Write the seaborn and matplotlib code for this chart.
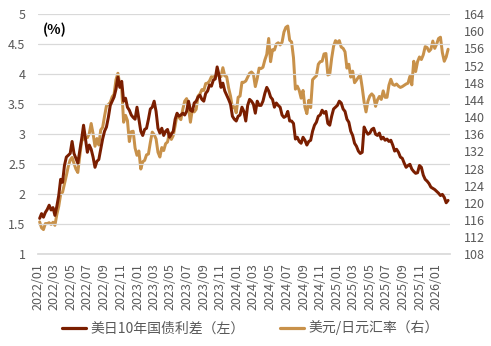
import matplotlib
matplotlib.use("Agg")
import matplotlib.pyplot as plt
import matplotlib.dates as mdates
from matplotlib.lines import Line2D
import numpy as np
import pandas as pd
import seaborn as sns

# Weekly observations (Fridays), starting 2022-01-07
start_date = "2022-01-07"

# US-Japan 10Y government bond yield spread, %  (left axis)
spread = [
    # 2022
    1.60, 1.68, 1.62, 1.70,
    1.75, 1.82, 1.74, 1.78,
    1.65, 1.80, 1.98, 2.25,
    2.20, 2.48, 2.62, 2.65, 2.68,
    2.88, 2.68, 2.60, 2.52,
    2.72, 2.92, 3.15, 2.92,
    2.70, 2.82, 2.75, 2.62, 2.45,
    2.55, 2.58, 2.75, 2.92,
    3.05, 3.12, 3.28, 3.48, 3.55,
    3.62, 3.75, 3.95, 3.78,
    3.88, 3.55, 3.60, 3.45,
    3.40, 3.32, 3.28, 3.25, 3.45,
    # 2023
    3.25, 3.05, 2.98, 3.08,
    3.10, 3.25, 3.42, 3.45,
    3.55, 3.38, 3.10, 3.02, 3.10,
    2.98, 3.05, 3.08, 2.95,
    3.00, 3.05, 3.25, 3.35,
    3.30, 3.32, 3.35, 3.32, 3.38,
    3.55, 3.40, 3.38, 3.52,
    3.55, 3.62, 3.65, 3.58,
    3.55, 3.68, 3.72, 3.82, 3.80,
    3.90, 3.92, 4.12, 3.98,
    3.78, 3.85, 3.72, 3.65,
    3.58, 3.50, 3.30, 3.25, 3.22,
    # 2024
    3.30, 3.32, 3.45, 3.38,
    3.22, 3.48, 3.58, 3.55,
    3.50, 3.35, 3.55, 3.48, 3.48,
    3.55, 3.68, 3.78, 3.72,
    3.62, 3.58, 3.45, 3.52, 3.48,
    3.45, 3.32, 3.28, 3.30,
    3.38, 3.22, 3.22, 3.18,
    2.92, 2.95, 2.88, 2.85, 2.95,
    2.90, 2.82, 2.88, 2.90,
    3.05, 3.15, 3.20, 3.30,
    3.32, 3.40, 3.35, 3.38, 3.18,
    3.15, 3.30, 3.42, 3.45,
    # 2025
    3.48, 3.55, 3.52, 3.42, 3.38,
    3.25, 3.20, 3.05, 2.98,
    2.85, 2.80, 2.72, 2.68,
    2.70, 3.12, 3.05, 3.00,
    3.02, 3.08, 3.10, 3.00, 2.98,
    3.02, 2.92, 2.95, 2.90,
    2.92, 2.88, 2.90, 2.82,
    2.72, 2.75, 2.70, 2.62, 2.60,
    2.52, 2.45, 2.48, 2.50,
    2.42, 2.38, 2.35, 2.36, 2.48,
    2.45, 2.32, 2.25, 2.22,
    2.18, 2.12, 2.10, 2.08,
    # 2026
    2.05, 2.02, 1.98, 2.00, 1.95,
    1.86, 1.90,
]

# USD/JPY exchange rate (right axis)
usdjpy = [
    # 2022
    115.6, 114.2, 113.8, 115.2,
    115.2, 115.4, 115.0, 115.5,
    114.8, 117.3, 119.2, 122.0,
    122.5, 124.4, 126.4, 128.5, 130.0,
    130.6, 129.2, 127.9, 127.1,
    130.9, 134.4, 135.0, 135.2,
    135.2, 136.1, 138.5, 136.1, 133.2,
    135.0, 133.5, 137.0, 137.6,
    140.2, 142.6, 142.9, 143.4, 144.7,
    145.3, 148.7, 150.2, 147.6,
    146.6, 138.8, 140.4, 139.2,
    134.3, 136.6, 136.7, 132.8, 131.1,
    # 2023
    132.1, 127.9, 129.6, 129.9,
    131.2, 131.4, 134.1, 136.5,
    135.9, 134.9, 131.8, 130.7, 132.9,
    132.2, 133.8, 134.2, 136.3,
    134.8, 135.7, 138.0, 140.6,
    139.9, 139.4, 141.8, 143.7, 144.3,
    142.1, 138.8, 141.8, 141.2,
    141.8, 144.9, 145.4, 146.4,
    146.2, 147.8, 147.9, 148.4, 149.4,
    149.3, 149.6, 149.9, 149.6,
    149.4, 151.5, 149.6, 149.4,
    146.8, 144.9, 142.2, 142.4, 141.0,
    # 2024
    144.6, 144.9, 148.1, 148.1,
    148.4, 149.3, 150.2, 150.5,
    150.0, 147.1, 149.0, 151.4, 151.3,
    151.6, 153.3, 154.6, 158.3,
    152.9, 155.7, 155.6, 157.0, 157.3,
    156.8, 157.4, 159.8, 160.9,
    161.2, 157.9, 157.5, 153.8,
    146.5, 147.2, 146.2, 144.4, 146.2,
    142.3, 140.8, 143.9, 142.2,
    148.7, 149.2, 149.6, 152.3,
    152.9, 153.0, 154.7, 154.8, 149.8,
    150.0, 153.7, 156.5, 157.8,
    # 2025
    157.3, 157.8, 156.3, 156.0, 155.2,
    151.4, 152.3, 149.3, 150.7,
    148.0, 148.6, 149.3, 149.8,
    146.9, 143.5, 141.2, 143.7,
    144.9, 145.4, 144.9, 142.5, 144.0,
    144.8, 144.1, 146.1, 144.6,
    144.6, 147.4, 148.8, 147.6,
    147.4, 147.7, 147.2, 146.9, 147.1,
    147.4, 147.7, 147.9, 149.5,
    147.5, 153.0, 150.6, 152.9, 154.0,
    153.4, 154.5, 156.4, 156.2,
    155.3, 155.8, 157.7, 156.0,
    # 2026
    157.0, 158.3, 158.6, 155.0, 153.0,
    154.0, 155.8,
]

spread_label = "美日10年国债利差（左）"
fx_label = "美元/日元汇率（右）"
left_ticks = [1, 1.5, 2, 2.5, 3, 3.5, 4, 4.5, 5]
right_ticks = list(range(108, 165, 4))

dates = pd.date_range(start_date, periods=len(spread), freq="W-FRI")
df = pd.DataFrame({"date": dates, "spread": spread, "usdjpy": usdjpy})

sns.set_theme(style="white")
plt.rcParams["font.family"] = ["Noto Sans CJK SC", "DejaVu Sans"]

c_spread = "#7A1E00"
c_fx = "#C8914A"
c_text = "#595959"
c_grid = "#D9D9D9"

fig = plt.figure(figsize=(4.91, 3.46), dpi=100)
ax = fig.add_axes([0.0774, 0.2645, 0.8391, 0.695])
ax2 = ax.twinx()

sns.lineplot(data=df, x="date", y="usdjpy", ax=ax2, color=c_fx, lw=2.15)
sns.lineplot(data=df, x="date", y="spread", ax=ax, color=c_spread, lw=2.15)

# keep the spread line above the FX line
ax.set_zorder(ax2.get_zorder() + 1)
ax.patch.set_visible(False)

ax.set_ylim(1, 5)
ax.set_yticks(left_ticks)
ax.set_yticklabels([f"{t:g}" for t in left_ticks])
ax2.set_ylim(108, 164)
ax2.set_yticks(right_ticks)

ax.set_xlim(pd.Timestamp("2022-01-01"), pd.Timestamp("2026-02-20"))
ax.xaxis.set_major_locator(mdates.MonthLocator(bymonth=[1, 3, 5, 7, 9, 11]))
ax.xaxis.set_major_formatter(mdates.DateFormatter("%Y/%m"))
for lbl in ax.get_xticklabels():
    lbl.set_rotation(90)

ax.yaxis.grid(True, color=c_grid, lw=0.9)
ax.xaxis.grid(False)
ax2.grid(False)

for a in (ax, ax2):
    for s in ("top", "left", "right"):
        a.spines[s].set_visible(False)
    a.spines["bottom"].set_color(c_grid)
    a.set_xlabel("")
    a.set_ylabel("")
ax2.spines["bottom"].set_visible(False)

ax.tick_params(axis="x", which="major", direction="out", length=4, width=0.8,
               color=c_grid, labelsize=9, labelcolor=c_text, pad=2)
ax.tick_params(axis="y", length=0, labelsize=9, labelcolor=c_text, pad=9)
ax2.tick_params(axis="y", length=0, labelsize=9, labelcolor=c_text, pad=10)

ax.text(0.012, 0.965, "(%)", transform=ax.transAxes, ha="left", va="top",
        fontsize=10, fontweight="bold", color="black")

handles = [Line2D([0], [0], color=c_spread, lw=2.3),
           Line2D([0], [0], color=c_fx, lw=2.3)]
fig.legend(handles, [spread_label, fx_label], loc="center",
           bbox_to_anchor=(0.51, 0.052), ncol=2, frameon=False,
           fontsize=10, handlelength=1.7, handletextpad=0.3,
           columnspacing=2.6, labelcolor=c_text)

fig.savefig("out.png", dpi=100)
